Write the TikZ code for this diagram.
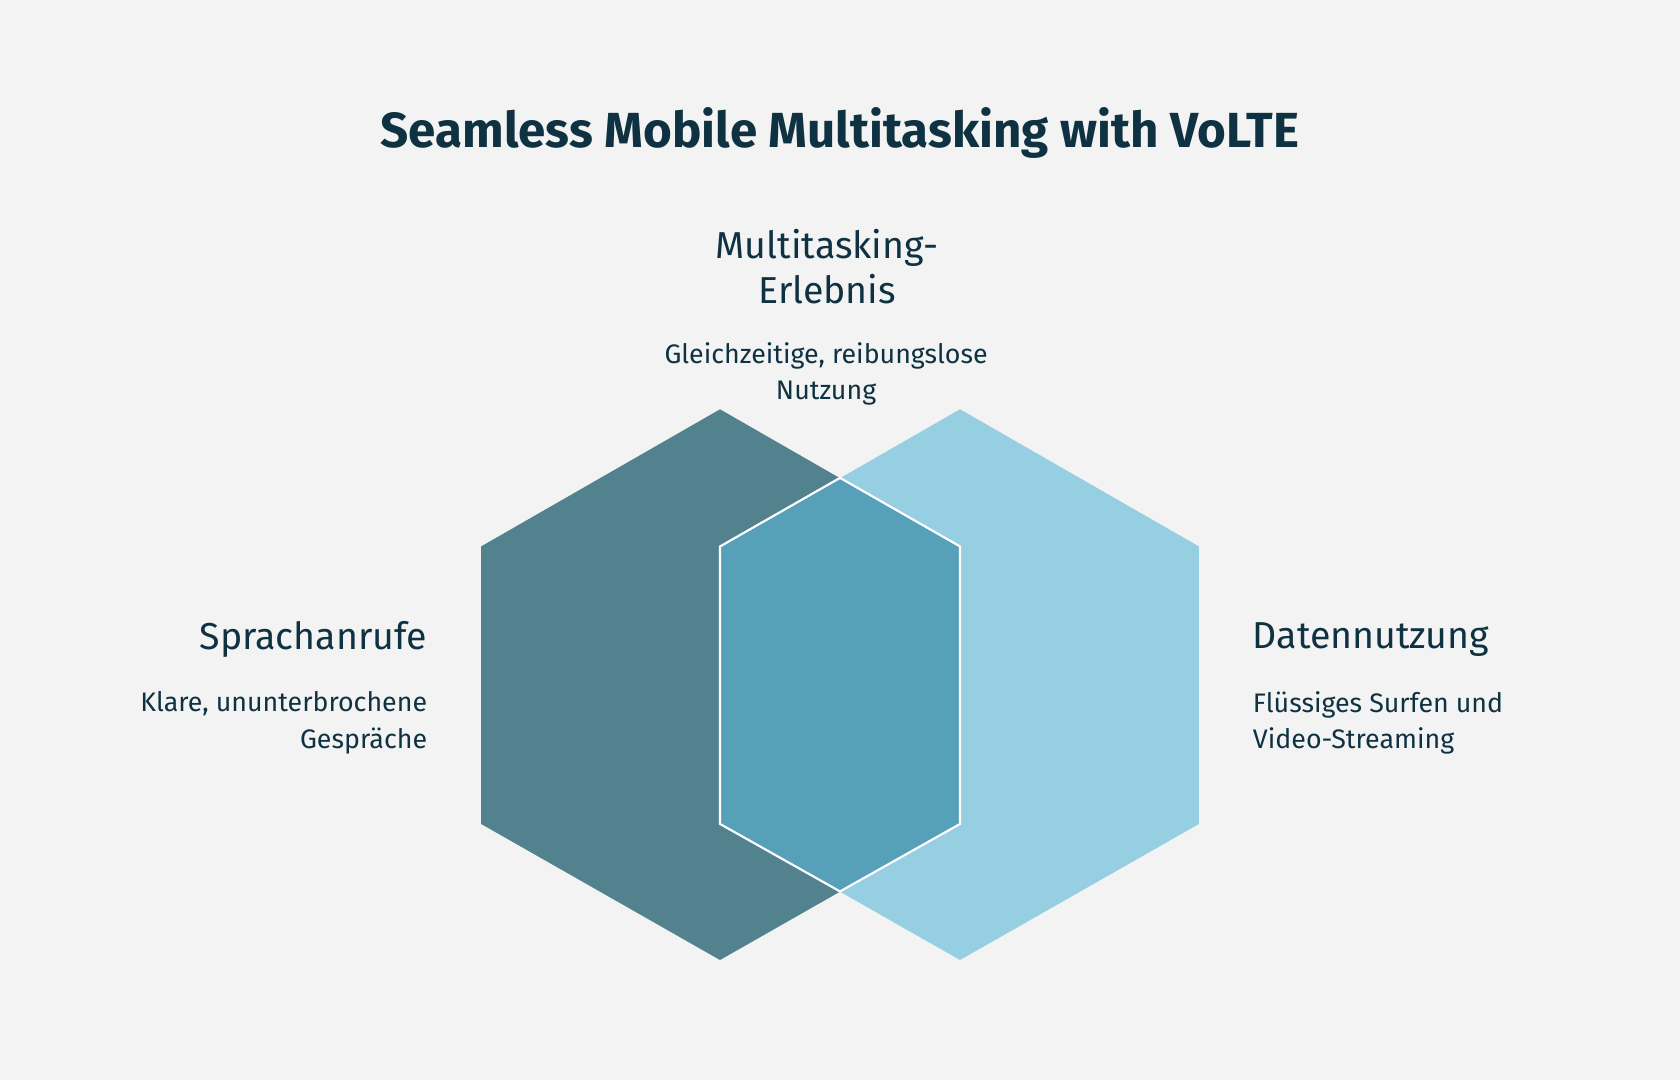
\documentclass[tikz,border=0pt]{standalone}
\usepackage{fontspec}
\setmainfont{Fira Sans}
\definecolor{bg}{HTML}{F3F3F3}
\definecolor{txt}{HTML}{0E3242}
\definecolor{darkhex}{HTML}{53828F}
\definecolor{lighthex}{HTML}{96CEE2}
\definecolor{midhex}{HTML}{57A0BA}
\begin{document}
\begin{tikzpicture}[x=0.5pt,y=-0.5pt,
  head/.style={text=txt,font=\fontsize{17.5}{21}\selectfont,inner sep=0},
  body/.style={text=txt,font=\fontsize{12.5}{17}\selectfont,inner sep=0}]
\fill[bg] (0,0) rectangle (1568,1008);
\useasboundingbox (0,0) rectangle (1568,1008);
\node[text=txt,font=\fontsize{23}{28}\selectfont\bfseries] (title) at (784,124) {Seamless Mobile Multitasking with VoLTE};
\fill[darkhex] (672,382) -- (895,510) -- (895,769) -- (672,896) -- (449,769) -- (449,510) -- cycle;
\fill[lighthex] (896,382) -- (1119,510) -- (1119,769) -- (896,896) -- (673,769) -- (673,510) -- cycle;
\fill[midhex, draw=white, line width=1pt] (784,446) -- (896,510) -- (896,769) -- (784,832) -- (672,769) -- (672,510) -- cycle;
\node[head,align=center] (mt) at (772,249) {Multitasking-\\Erlebnis};
\node[body,align=center] (mtb) at (771,349) {Gleichzeitige, reibungslose\\Nutzung};
\node[head,anchor=east] (sp) at (399,597) {Sprachanrufe};
\node[body,align=right,anchor=north east] (spb) at (399,645) {Klare, ununterbrochene\\Gespräche};
\node[head,anchor=west] (dn) at (1169,597) {Datennutzung};
\node[body,align=left,anchor=north west] (dnb) at (1169,645) {Flüssiges Surfen und\\Video-Streaming};
\end{tikzpicture}
\end{document}
